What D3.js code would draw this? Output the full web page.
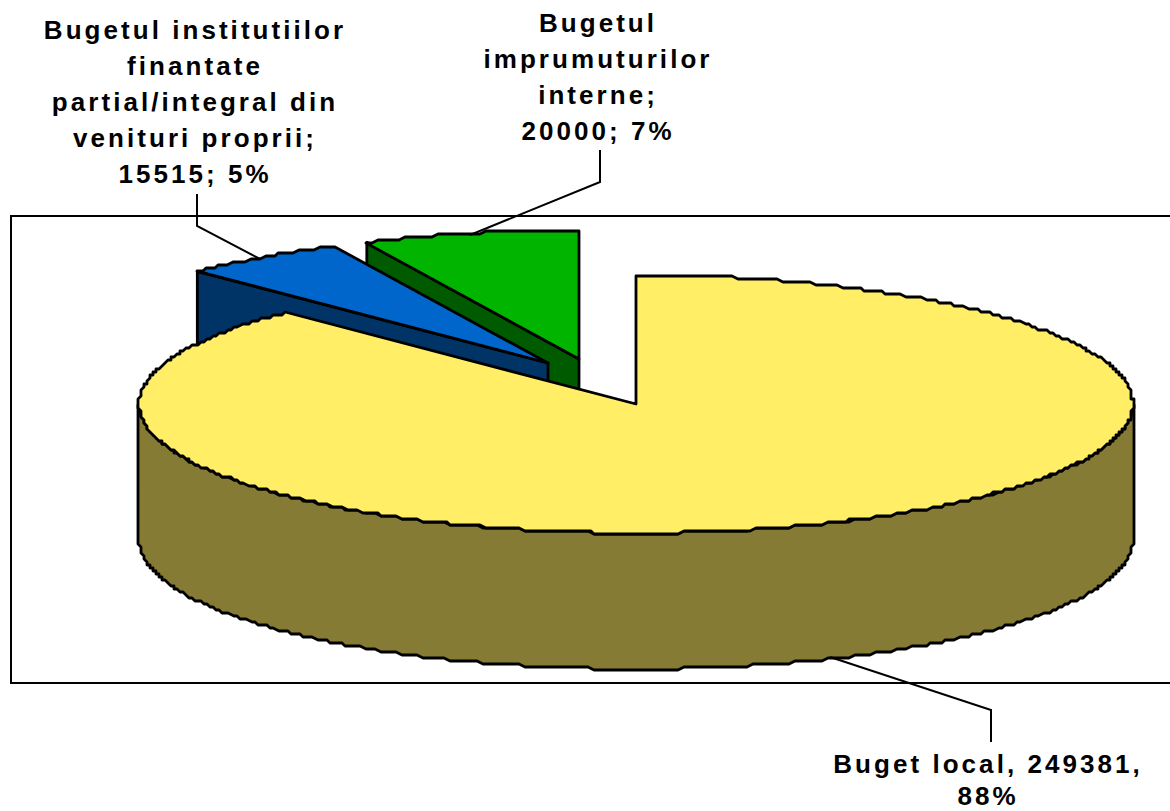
<!DOCTYPE html>
<html>
<head>
<meta charset="utf-8">
<script src="https://cdnjs.cloudflare.com/ajax/libs/d3/7.8.5/d3.min.js"></script>
<style>
  html, body { margin: 0; padding: 0; background: #fff; overflow: hidden; }
  text { font-family: "Liberation Sans", Arial, sans-serif; font-weight: bold; font-size: 26px; letter-spacing: 3.05px; fill: #000; }
</style>
</head>
<body>
<div id="chart"></div>
<script>
const categories = ["Buget local", "Bugetul institutiilor finantate partial/integral din venituri proprii", "Bugetul imprumuturilor interne"];
const values = [249381, 15515, 20000];
const topColors = ["#FFEE66", "#0066CC", "#00B400"];
const sideColors = ["#857B35", "#003366", "#005A00"];

// how far each slice is pulled out of the pie, px
const explodeX = [0, -88, -57];
const explodeY = [0, -41, -45];

const labelLines = [
  ["Buget local, 249381,", "88%"],
  ["Bugetul institutiilor", "finantate", "partial/integral din", "venituri proprii;", "15515; 5%"],
  ["Bugetul", "imprumuturilor", "interne;", "20000; 7%"]
];
const labelX = [988, 195, 598];
const labelY = [773, 39, 32];

width = 1170;
height = 811;

const cx = 636, cy = 404, rx = 497, ry = 129, depth = 136;

const svg = d3.select("#chart").append("svg")
    .attr("width", width)
    .attr("height", height);

// plot frame, runs off the right side of the picture
svg.append("rect")
    .attr("x", 11).attr("y", 216)
    .attr("width", 1200).attr("height", 467)
    .attr("fill", "#fff").attr("stroke", "#000").attr("stroke-width", 2);

const pie = d3.pie().sort(null).startAngle(0).endAngle(2 * Math.PI);
const slices = pie(values);

const x = d3.scaleLinear().domain([-1, 1]).range([cx - rx, cx + rx]);
const y = d3.scaleLinear().domain([-1, 1]).range([cy - ry, cy + ry]);

// the source is a coarse metafile, so its rim is stepped
const snap = v => Math.round(v / 3) * 3;

// rim point of angle a, clockwise from the top
function rim(a, dx, dy) {
  return [snap(x(Math.sin(a))) + dx, snap(y(-Math.cos(a))) + dy];
}
function rimPoints(a0, a1, dx, dy) {
  const n = Math.ceil(Math.abs(a1 - a0) / 0.012);
  return d3.range(n + 1).map(i => rim(a0 + (a1 - a0) * i / n, dx, dy));
}
const line = d3.line();

function draw(points, fill) {
  svg.append("path")
      .attr("d", line(points) + "Z")
      .attr("fill", fill)
      .attr("stroke", "#000")
      .attr("stroke-width", 2.8)
      .attr("stroke-linejoin", "round");
}

// small slices first (green, blue), the big one covers them
[2, 1].forEach(function(i) {
  const s = slices[i], dx = explodeX[i], dy = explodeY[i];
  const apex = [cx + dx, cy + dy];
  const edge = [x(Math.sin(s.startAngle)) + dx, y(-Math.cos(s.startAngle)) + dy];
  // cut face along the start edge
  draw([apex, edge, [edge[0], edge[1] + depth], [apex[0], apex[1] + depth]], sideColors[i]);
  draw([apex].concat(rimPoints(s.startAngle, s.endAngle, dx, dy)), topColors[i]);
});

// big slice: front wall then the top
const big = slices[0];
const front = rimPoints(Math.PI / 2, 3 * Math.PI / 2, 0, 0);
const frontLow = front.map(p => [p[0], p[1] + depth]).reverse();
draw(front.concat(frontLow), sideColors[0]);
draw([[cx, cy]].concat(rimPoints(big.startAngle, big.endAngle, 0, 0)), topColors[0]);

// leader lines
const leaders = [
  [[991, 742], [991, 710], [830, 657]],
  [[197, 194], [197, 226], [260, 259]],
  [[600, 150], [600, 182], [470, 235]]
];
leaders.forEach(function(l) {
  svg.append("path")
      .attr("d", line(l))
      .attr("fill", "none")
      .attr("stroke", "#000")
      .attr("stroke-width", 2);
});

// labels
labelLines.forEach(function(lines, i) {
  lines.forEach(function(t, j) {
    svg.append("text")
        .attr("x", labelX[i])
        .attr("y", labelY[i] + j * (i == 0 ? 32 : 36))
        .attr("text-anchor", "middle")
        .text(t);
  });
});
</script>
</body>
</html>
